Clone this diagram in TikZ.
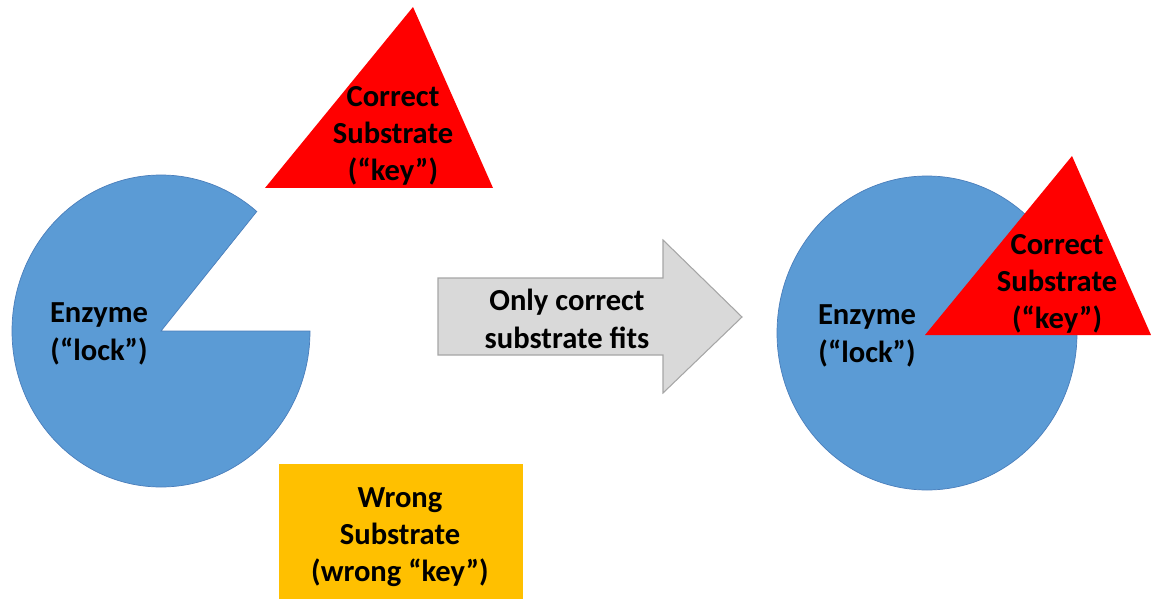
\documentclass[tikz,border=0pt]{standalone}
\usepackage{fontspec}
\setmainfont{Carlito}
\definecolor{enzblue}{HTML}{5B9BD5}
\definecolor{enzedge}{HTML}{4A7EBB}
\definecolor{keyred}{HTML}{FF0000}
\definecolor{arrgray}{HTML}{D9D9D9}
\definecolor{arredge}{HTML}{A6A6A6}
\definecolor{wrongamber}{HTML}{FFC000}
\begin{document}
\begin{tikzpicture}[x=0.02cm,y=0.02cm,
  lbl/.style={font=\bfseries\fontsize{17.4}{21.2}\selectfont, align=center, text=black, inner sep=0pt},
  enz/.style={fill=enzblue, draw=enzedge, line width=0.4pt},
  keyshape/.style={fill=keyred, draw=none}]
\useasboundingbox (0,0) rectangle (1151,599);
% left enzyme (pac-man)
\draw[enz] (161,268) -- (310,268) arc[start angle=0, end angle=-310, x radius=149, y radius=156] -- cycle;
\node[lbl] (enzL) at (99,265) {Enzyme\\(“lock”)};
% top red triangle
\fill[keyshape] (413,592) -- (493,411) -- (265,411) -- cycle;
\node[lbl] (keyT) at (393,463) {Correct\\Substrate\\(“key”)};
% arrow
\draw[fill=arrgray, draw=arredge, line width=0.6pt] (438,321) -- (663,321) -- (663,359) -- (742,282) -- (663,206) -- (663,244) -- (438,244) -- cycle;
\node[lbl] (arrtxt) at (567,280) {Only correct\\substrate fits};
% right enzyme
\draw[enz] (927,266) ellipse[x radius=150, y radius=157];
\fill[keyshape] (1072,443) -- (1151,264) -- (925,264) -- cycle;
\node[lbl] (enzR) at (867,263) {Enzyme\\(“lock”)};
\node[lbl] (keyR) at (1057,315) {Correct\\Substrate\\(“key”)};
% wrong substrate
\fill[wrongamber] (279,0) rectangle (523,135);
\node[lbl] (wrong) at (400,62) {Wrong\\Substrate\\(wrong “key”)};
\end{tikzpicture}
\end{document}
